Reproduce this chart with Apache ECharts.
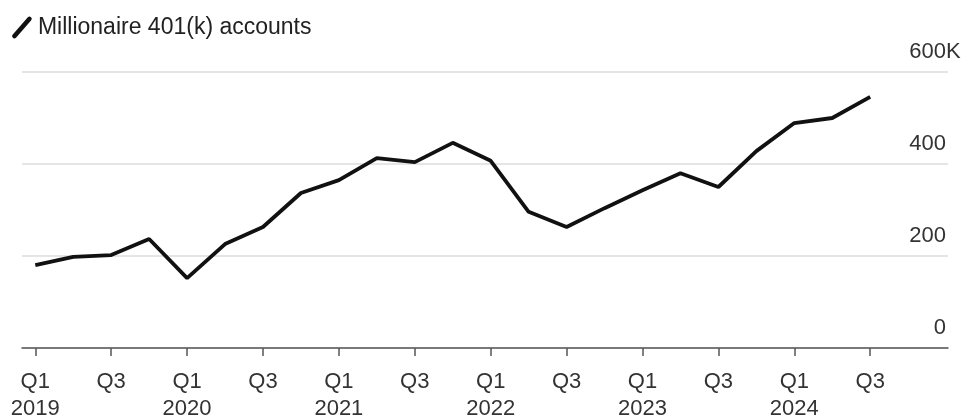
<!DOCTYPE html>
<html>
<head>
<meta charset="utf-8">
<script src="https://cdn.jsdelivr.net/npm/echarts@6/dist/echarts.min.js"></script>
<style>
html,body{margin:0;padding:0;background:#fff;}
#c{width:965px;height:419px;}
</style>
</head>
<body>
<div id="c"></div>
<script>
var quarters = ['Q1 2019','Q2 2019','Q3 2019','Q4 2019','Q1 2020','Q2 2020','Q3 2020','Q4 2020',
  'Q1 2021','Q2 2021','Q3 2021','Q4 2021','Q1 2022','Q2 2022','Q3 2022','Q4 2022',
  'Q1 2023','Q2 2023','Q3 2023','Q4 2023','Q1 2024','Q2 2024','Q3 2024'];
var accounts = [180,198,202,237,152,226,263,337,365,413,404,446,407,296,263,304,343,380,350,428,489,500,546];
var tickPositions = [0,2,4,6,8,10,12,14,16,18,20,22];
var tickLabels = ['Q1\n2019','Q3','Q1\n2020','Q3','Q1\n2021','Q3','Q1\n2022','Q3','Q1\n2023','Q3','Q1\n2024','Q3'];
var yTicks = [0,200,400,600];
var yLabels = ['0','200','400','600K'];
var seriesName = 'Millionaire 401(k) accounts';

var font = "'Liberation Sans', Arial, Helvetica, sans-serif";
var chart = echarts.init(document.getElementById('c'));
var data = accounts.map(function(v,i){ return [i, v]; });
chart.setOption({
  animation: false,
  backgroundColor: '#fff',
  legend: {
    left: 7, top: 11,
    itemWidth: 22, itemHeight: 22, itemGap: 13,
    icon: 'path://M1,18 L15,2 Q16.5,0.5 18,2 Q19.5,3.5 18,5 L4,21 Q2.5,22.5 1,21 Q-0.5,19.5 1,18 Z',
    textStyle: { fontSize: 23, color: '#222', fontFamily: font },
    data: [{ name: seriesName, itemStyle: { color: '#111' } }]
  },
  grid: { left: 22, right: 17, top: 72, bottom: 71, outerBoundsMode: 'none', containLabel: false },
  xAxis: {
    type: 'value', min: -0.35, max: 24.05,
    splitLine: { show: false },
    axisLine: { show: true, lineStyle: { color: '#555', width: 1.5 } },
    axisTick: { show: true, customValues: tickPositions, length: 8, lineStyle: { color: '#555', width: 1.5 } },
    axisLabel: {
      customValues: tickPositions,
      formatter: function(v){ var i = tickPositions.indexOf(Math.round(v)); return i >= 0 ? tickLabels[i] : ''; },
      fontSize: 22, lineHeight: 27, color: '#333', fontFamily: font, margin: 20
    }
  },
  yAxis: {
    type: 'value', position: 'right', min: 0, max: 600, interval: 200,
    axisLine: { show: false }, axisTick: { show: false },
    splitLine: { lineStyle: { color: '#ddd', width: 1.5 } },
    axisLabel: {
      inside: true, margin: 2, verticalAlign: 'bottom', padding: [0,0,9,0],
      fontSize: 22, color: '#333', fontFamily: font,
      formatter: function(v){ var i = yTicks.indexOf(v); var s = yLabels[i];
        if (s && s.slice(-1) === 'K') return '{n|' + s.slice(0,-1) + '}{k|K}'; return '{n|' + s + '}'; },
      rich: {
        n: { fontSize: 22, color: '#333', fontFamily: font, align: 'left' },
        k: { fontSize: 22, color: '#333', fontFamily: font, align: 'left', width: 0.1 }
      }
    }
  },
  series: [{
    name: seriesName, type: 'line', data: data,
    showSymbol: false, symbol: 'none',
    lineStyle: { color: '#111', width: 3.8 },
    itemStyle: { color: '#111' }
  }]
});
</script>
</body>
</html>
